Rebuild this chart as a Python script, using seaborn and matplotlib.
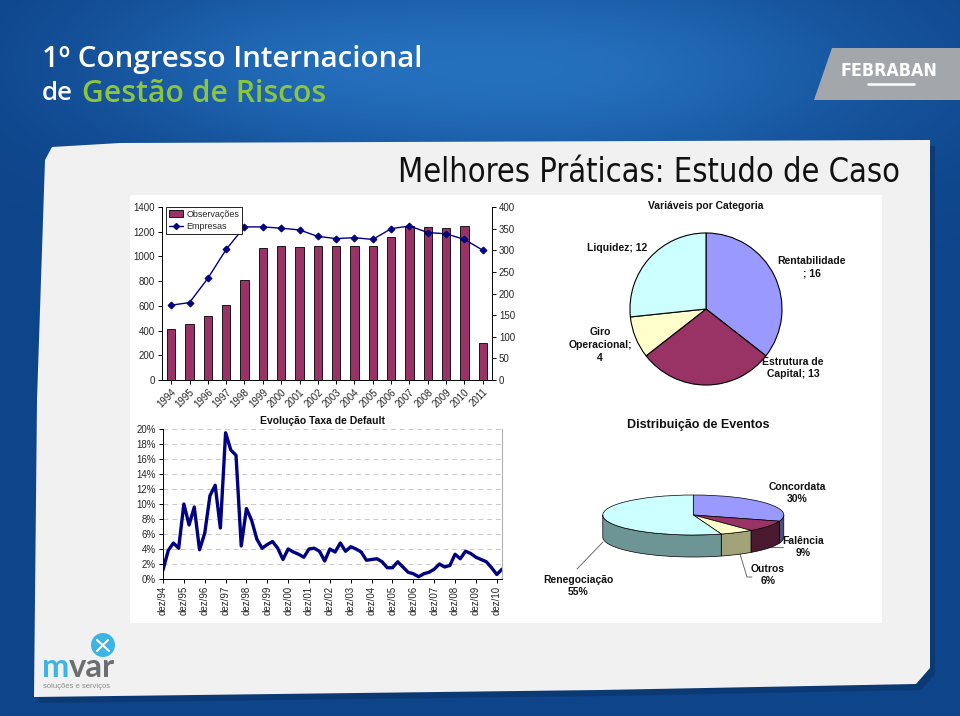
import numpy as np
import pandas as pd
import matplotlib
matplotlib.use('Agg')
import matplotlib.pyplot as plt
import seaborn as sns
from matplotlib.patches import Polygon, Rectangle, Circle, Patch
from matplotlib.lines import Line2D

# ---------------- data ----------------
years = [str(y) for y in range(1994, 2012)]
observacoes = [409, 455, 520, 608, 810, 1072, 1082, 1074, 1082, 1082, 1088, 1088,
               1155, 1250, 1236, 1228, 1247, 299]
empresas = [173, 179, 235, 302, 354, 354, 351, 347, 332, 327, 329, 325,
            350, 356, 341, 338, 325, 300]

cat_names = ['Rentabilidade', 'Estrutura de Capital', 'Giro Operacional', 'Liquidez']
cat_values = [16, 13, 4, 12]
cat_label_fmt = ['Rentabilidade\n; {}', 'Estrutura de\nCapital; {}', 'Giro\nOperacional;\n{}', 'Liquidez; {}']

default_rate = [1.2, 3.8, 4.8, 4.1,
                10.0, 7.2, 9.6, 3.9,
                6.1, 11.1, 12.5, 6.8,
                19.5, 17.2, 16.5, 4.4,
                9.4, 7.8, 5.3, 4.1,
                4.6, 5.0, 4.1, 2.6,
                4.0, 3.6, 3.3, 2.9,
                4.0, 4.1, 3.7, 2.4,
                4.0, 3.6, 4.8, 3.7,
                4.3, 4.0, 3.6, 2.5,
                2.6, 2.7, 2.3, 1.5,
                1.5, 2.3, 1.6, 0.9,
                0.7, 0.3, 0.7, 0.9,
                1.3, 2.0, 1.6, 1.8,
                3.3, 2.7, 3.7, 3.4,
                2.9, 2.6, 2.3, 1.5,
                0.6, 1.3]
dez_labels = ['dez/%02d' % (y % 100) for y in range(1994, 2011)]

event_names = ['Concordata', 'Falência', 'Outros', 'Renegociação']
event_pct = [30, 9, 6, 55]

# ---------------- style ----------------
sns.set_theme(style='white')
plt.rcParams['font.family'] = ['Liberation Sans', 'DejaVu Sans']

W, H = 960, 716
fig = plt.figure(figsize=(9.6, 7.16), dpi=100)

def frect(x0, y0, x1, y1):
    return [x0 / W, 1 - y1 / H, (x1 - x0) / W, (y1 - y0) / H]

# ---------------- background ----------------
bg = fig.add_axes([0, 0, 1, 1], zorder=-10)
bg.set_xlim(0, W)
bg.set_ylim(H, 0)
bg.axis('off')
yy, xx = np.mgrid[0:H, 0:W]
base = np.array([14, 68, 138]) / 255
light = np.array([40, 118, 196]) / 255
w = 0.85 * np.exp(-((xx - 560) / 330.0) ** 2 - ((yy - 70) / 110.0) ** 2)
w += 0.35 * np.exp(-((xx - 250) / 200.0) ** 2 - ((yy - 60) / 90.0) ** 2)
w = np.clip(w, 0, 1)[..., None]
img = base * (1 - w) + light * w
bg.imshow(img, extent=(0, W, H, 0), aspect='auto', zorder=0)

# FEBRABAN box
bg.add_patch(Polygon([(832, 48), (960, 48), (960, 100), (814, 100)], closed=True,
                     facecolor='#a3a7ab', edgecolor='none', zorder=1))
tf = bg.text(889, 71, 'FEBRABAN', color='white', fontsize=12.5, fontweight='bold',
             family='DejaVu Sans', fontstretch='condensed', ha='center', va='center', zorder=2)
bg.plot([868, 914], [84, 84], color='white', lw=1.8, zorder=2)

# header title
t1 = bg.text(42, 60, '1º Congresso Internacional', color='white', fontsize=22,
             family='Open Sans', fontweight='semibold', ha='left', va='center', zorder=2)
t2a = bg.text(42, 94, 'de', color='white', fontsize=22, family='Open Sans',
              fontweight='semibold', ha='left', va='center', zorder=2)
t2b = bg.text(82, 94, 'Gestão de Riscos', color='#8cc63e', fontsize=22, family='Open Sans',
              fontweight='semibold', ha='left', va='center', zorder=2)

# panel shadow + panel
panel = [(45, 160), (52, 147), (120, 143), (930, 140), (930, 668), (916, 684),
         (600, 690), (34, 697), (37, 400)]
bg.add_patch(Polygon([(x + 5, y + 6) for x, y in panel], closed=True,
                     facecolor='#0a3266', edgecolor='none', alpha=0.6, zorder=1))
bg.add_patch(Polygon(panel, closed=True, facecolor='#f1f1f1', edgecolor='none', zorder=2))
bg.add_patch(Rectangle((130, 195), 752, 428, facecolor='white', edgecolor='none', zorder=3))

t3 = bg.text(398, 172, 'Melhores Práticas: Estudo de Caso', color='#111111', fontsize=24,
             family='DejaVu Sans', fontstretch='condensed', ha='left', va='center', zorder=4)

# mvar logo
bg.add_patch(Circle((103, 645), 12, facecolor='#3cb4e5', edgecolor='none', zorder=4))
bg.plot([97, 109], [640, 651], color='white', lw=1.5, zorder=5)
bg.plot([97, 108], [651, 640], color='white', lw=1.5, zorder=5)
tmv = bg.text(42, 677, 'mvar', color='none', fontsize=26, fontweight='bold', family='Lato',
              ha='left', va='baseline', zorder=4)
tm = bg.text(42, 677, 'm', color='#3cb4e5', fontsize=26, fontweight='bold', family='Lato',
             ha='left', va='baseline', zorder=4)
tv = bg.text(76, 677, 'var', color='#6d6e71', fontsize=26, fontweight='bold', family='Lato',
             ha='left', va='baseline', zorder=4)
bg.text(43, 686, 'soluções e serviços', color='#8a8a8a', fontsize=5.5,
        ha='left', va='center', zorder=4)

fig.canvas.draw()
rend = fig.canvas.get_renderer()
def fit(t, width):
    bb = t.get_window_extent(rend)
    t.set_fontsize(t.get_fontsize() * width / bb.width)
fit(t1, 380)
fit(t2a, 31)
fit(t2b, 243)
fit(t3, 505)
fit(tf, 96)
fit(tmv, 74)
tm.set_fontsize(tmv.get_fontsize())
tv.set_fontsize(tmv.get_fontsize())
tmv.set_visible(False)
m_bb = tm.get_window_extent(rend)
tv.set_x(m_bb.x1 - 1)

navy = '#000080'
tick_kw = dict(labelsize=7, length=3, width=0.7, color='black', pad=2)

# ---------------- bar + line chart ----------------
ax1 = fig.add_axes(frect(162, 207, 492, 380))
ax1.set_facecolor('none')
df_bar = pd.DataFrame({'ano': years, 'obs': observacoes, 'emp': empresas})
sns.barplot(data=df_bar, x='ano', y='obs', color='#993366', saturation=1,
            edgecolor='black', linewidth=0.6, width=0.45, ax=ax1)
ax1.set_xlim(-0.5, len(years) - 0.5)
ax1.set_ylim(0, 1400)
ax1.set_yticks(range(0, 1401, 200))
ax1.set_xticks(range(len(years)))
ax1.set_xticklabels(years, rotation=45, ha='right', rotation_mode='anchor', fontsize=7)
ax1.set_xlabel('')
ax1.set_ylabel('')
ax1.tick_params(axis='both', left=True, bottom=True, direction='out', **tick_kw)
for s in ['top', 'right']:
    ax1.spines[s].set_visible(False)
for s in ['left', 'bottom']:
    ax1.spines[s].set_color('black')
    ax1.spines[s].set_linewidth(0.7)

ax2 = ax1.twinx()
sns.lineplot(x=np.arange(len(years)), y=empresas, ax=ax2, color=navy, linewidth=1.0,
             marker='D', markersize=3.5, markeredgecolor=navy, markerfacecolor=navy)
ax2.set_ylim(0, 400)
ax2.set_yticks(range(0, 401, 50))
ax2.set_xlim(-0.5, len(years) - 0.5)
ax2.set_ylabel('')
ax2.tick_params(axis='y', right=True, direction='out', **tick_kw)
for s in ['top', 'left', 'bottom']:
    ax2.spines[s].set_visible(False)
ax2.spines['right'].set_color('black')
ax2.spines['right'].set_linewidth(0.7)
handles = [Patch(facecolor='#993366', edgecolor='black', linewidth=0.6, label='Observações'),
           Line2D([], [], color=navy, marker='D', markersize=3, lw=1.0, label='Empresas')]
leg = ax2.legend(handles=handles, loc='upper left', bbox_to_anchor=(0.012, 1.0),
                 fontsize=6.5, frameon=True, fancybox=False, edgecolor='black',
                 framealpha=1, borderpad=0.3, labelspacing=0.35, handlelength=1.6,
                 handletextpad=0.35, borderaxespad=0.0)
leg.get_frame().set_linewidth(0.6)

# ---------------- pie: Variáveis por Categoria ----------------
bg.text(706, 206, 'Variáveis por Categoria', fontsize=7.5, fontweight='bold',
        ha='center', va='center', zorder=4, color='#111111')
ax4 = fig.add_axes(frect(628, 231, 784, 387))
ax4.pie(cat_values, colors=['#9999ff', '#993366', '#ffffcc', '#ccffff'], startangle=90,
        counterclock=False, wedgeprops=dict(edgecolor='black', linewidth=0.8))
ax4.set_xlim(-1.026, 1.026)
ax4.set_ylim(-1.026, 1.026)
ax4.set_aspect('equal')
ax4.axis('off')
cat_pos = [(812, 267), (793, 368), (600, 345), (617, 248)]
for fmt, v, (px, py) in zip(cat_label_fmt, cat_values, cat_pos):
    bg.text(px, py, fmt.format(v), fontsize=7.5, fontweight='bold', ha='center',
            va='center', linespacing=1.35, zorder=4, color='#111111')

# ---------------- line chart: default rate ----------------
bg.text(323, 421, 'Evolução Taxa de Default', fontsize=7.5, fontweight='bold',
        ha='center', va='center', zorder=4, color='#111111')
ax3 = fig.add_axes(frect(163, 429, 502, 579))
ax3.set_facecolor('none')
sns.lineplot(x=np.arange(len(default_rate)), y=default_rate, ax=ax3, color=navy, linewidth=2.4)
ax3.set_xlim(0, len(default_rate) - 1)
ax3.set_ylim(0, 20)
ax3.set_yticks(range(0, 21, 2))
ax3.set_yticklabels(['%d%%' % v for v in range(0, 21, 2)])
ax3.set_xticks(range(0, 4 * len(dez_labels), 4))
ax3.set_xticklabels(dez_labels, rotation=90, fontsize=7)
ax3.yaxis.grid(True, linestyle=(0, (5, 4)), color='#c8c8c8', linewidth=0.7)
ax3.set_axisbelow(True)
ax3.tick_params(axis='both', left=True, bottom=True, direction='out', **tick_kw)
ax3.spines['top'].set_visible(False)
ax3.spines['right'].set_color('#b0b0b0')
ax3.spines['right'].set_linewidth(0.8)
for s in ['left', 'bottom']:
    ax3.spines[s].set_color('black')
    ax3.spines[s].set_linewidth(0.7)

# ---------------- 3D pie: Distribuição de Eventos ----------------
bg.text(698, 425, 'Distribuição de Eventos', fontsize=9, fontweight='bold',
        ha='center', va='center', zorder=4, color='#111111')
ax5 = fig.add_axes(frect(602.8, 494, 783.8, 559))
depth = 1.1
top_colors = ['#9999ff', '#993366', '#ffffcc', '#ccffff']
side_colors = ['#4d4d80', '#4a1930', '#a3a37a', '#6e9595']
cum = np.concatenate([[0], np.cumsum(event_pct)]) / 100.0
t_start = 90 - 360 * cum[:-1]
t_end = 90 - 360 * cum[1:]
for k in range(len(event_pct)):
    lo, hi = max(t_end[k], -180), min(t_start[k], 0)
    if lo < hi:
        t = np.radians(np.linspace(lo, hi, 60))
        top = np.column_stack([np.cos(t), np.sin(t)])
        bot = np.column_stack([np.cos(t), np.sin(t) - depth])[::-1]
        ax5.add_patch(Polygon(np.vstack([top, bot]), closed=True, facecolor=side_colors[k],
                              edgecolor='black', linewidth=0.5, zorder=1))
ax5.pie(event_pct, colors=top_colors, startangle=90, counterclock=False,
        wedgeprops=dict(edgecolor='black', linewidth=0.5, zorder=2))
ax5.set_aspect('auto')
ax5.set_xlim(-1, 1)
ax5.set_ylim(-1 - depth - 0.1, 1.05)
ax5.axis('off')
for p in ax5.patches:
    p.set_clip_on(False)

ev_pos = [(797, 493), (803, 547), (768, 575), (578, 586)]
for name, v, (px, py) in zip(event_names, event_pct, ev_pos):
    bg.text(px, py, '%s\n%d%%' % (name, v), fontsize=7.5, fontweight='bold', ha='center',
            va='center', linespacing=1.35, zorder=4, color='#111111')
# leader lines
bg.plot([577, 603], [569, 542], color='#555555', lw=0.6, zorder=4)
bg.plot([740, 747, 752], [554, 577, 577], color='#555555', lw=0.6, zorder=4)
bg.plot([768, 783], [547, 547], color='#555555', lw=0.6, zorder=4)

fig.savefig('out.png', dpi=100)
